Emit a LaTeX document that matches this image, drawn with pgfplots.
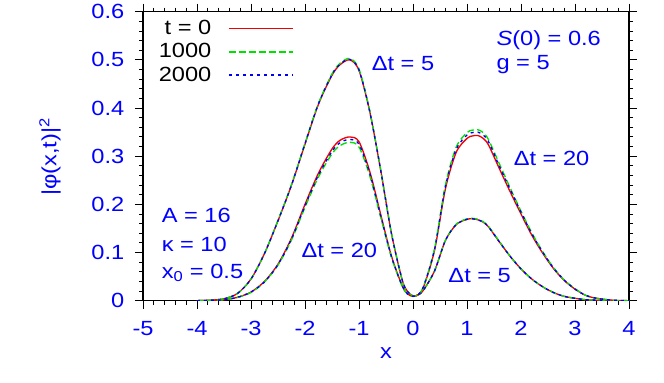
\documentclass[border=0pt]{standalone}
\usepackage{fontspec}
\setmainfont{Liberation Sans}[FakeStretch=1.15]
\usepackage{pgfplots}
\usepackage{pgfplotstable}
\pgfplotsset{compat=1.18}

\definecolor{cred}{RGB}{240,0,0}
\definecolor{cgreen}{RGB}{0,225,0}
\definecolor{cblue}{RGB}{0,0,245}

% |phi(x,t)|^2; r/g/b = t = 0, 1000, 2000
\pgfplotstableread{
x     r5    g5    b5    r20    g20    b20
-4.00 0.000 0.000 0.000 0.000  0.000  0.000
-3.75 0.001 0.001 0.001 0.0005 0.0005 0.0005
-3.50 0.004 0.004 0.004 0.002  0.002  0.002
-3.25 0.015 0.015 0.015 0.007  0.007  0.007
-3.00 0.045 0.045 0.045 0.018  0.017  0.018
-2.75 0.098 0.098 0.098 0.040  0.039  0.039
-2.50 0.166 0.167 0.166 0.076  0.074  0.075
-2.25 0.240 0.241 0.240 0.130  0.126  0.128
-2.00 0.325 0.327 0.326 0.200  0.194  0.197
-1.75 0.408 0.410 0.409 0.265  0.257  0.261
-1.50 0.468 0.471 0.469 0.315  0.305  0.310
-1.35 0.490 0.493 0.491 0.333  0.322  0.328
-1.17 0.500 0.503 0.501 0.340  0.329  0.335
-1.00 0.478 0.481 0.479 0.330  0.319  0.325
-0.80 0.392 0.394 0.392 0.268  0.259  0.264
-0.60 0.272 0.273 0.272 0.180  0.174  0.177
-0.40 0.140 0.141 0.140 0.093  0.090  0.092
-0.20 0.043 0.043 0.043 0.031  0.030  0.031
-0.10 0.019 0.019 0.019 0.014  0.014  0.014
 0.00 0.010 0.010 0.010 0.009  0.009  0.009
 0.10 0.012 0.012 0.012 0.013  0.013  0.013
 0.20 0.023 0.023 0.023 0.030  0.031  0.031
 0.40 0.062 0.062 0.062 0.105  0.109  0.107
 0.60 0.125 0.125 0.125 0.232  0.240  0.237
 0.80 0.158 0.159 0.158 0.308  0.319  0.314
 1.00 0.169 0.170 0.169 0.337  0.349  0.344
 1.10 0.170 0.171 0.170 0.342  0.354  0.349
 1.20 0.168 0.169 0.168 0.343  0.355  0.350
 1.30 0.163 0.164 0.163 0.337  0.349  0.344
 1.40 0.153 0.154 0.153 0.323  0.334  0.330
 1.60 0.122 0.123 0.122 0.274  0.284  0.279
 1.80 0.092 0.092 0.092 0.226  0.234  0.231
 2.00 0.066 0.066 0.066 0.180  0.186  0.184
 2.20 0.045 0.045 0.045 0.136  0.141  0.139
 2.40 0.029 0.029 0.029 0.099  0.102  0.101
 2.60 0.017 0.017 0.017 0.067  0.069  0.068
 2.80 0.009 0.009 0.009 0.042  0.043  0.043
 3.00 0.005 0.005 0.005 0.024  0.025  0.024
 3.20 0.002 0.002 0.002 0.011  0.011  0.011
 3.40 0.001 0.001 0.001 0.005  0.005  0.005
 3.70 0.000 0.000 0.000 0.001  0.001  0.001
 4.00 0.000 0.000 0.000 0.000  0.000  0.000
}\curves

\newcommand{\lbl}{\fontsize{15.4}{17}\selectfont}

\begin{document}
\begin{tikzpicture}
\path (0,0) rectangle (498pt,285pt);
\begin{axis}[
    at={(107.25pt,61.5pt)}, anchor=south west,
    width=364.5pt, height=216.75pt, scale only axis,
    xmin=-5, xmax=4, ymin=0, ymax=0.6,
    xtick={-5,-4,-3,-2,-1,0,1,2,3,4},
    ytick={0,0.1,0.2,0.3,0.4,0.5,0.6},
    minor x tick num=4, minor y tick num=4,
    tick align=outside,
    major tick length=6pt, minor tick length=3pt,
    tick style={black, line width=0.7pt},
    axis line style={line width=0.9pt},
    /pgf/number format/assume math mode=true,
    ticklabel style={text=blue, font=\lbl},
    xticklabel style={yshift=-6pt},
    yticklabel style={/pgf/number format/fixed, xshift=-4.5pt},
    legend plot pos=right,
    legend cell align=right,
    legend image code/.code={\draw[#1, line width=1.2pt] (0pt,0pt) -- (48pt,0pt);},
    legend style={at={(axis cs:-2.12,0.594)}, anchor=north east,
        draw=none, fill=none, font=\lbl,
        row sep=1.3pt,
        /tikz/every even column/.append style={column sep=11pt},
        /tikz/every odd column/.append style={column sep=11pt}},
]
\addplot[color=cred, line width=1pt, smooth] table[x=x, y=r5] {\curves};
\addlegendentry{t = 0}
\addplot[color=cgreen, line width=1pt, smooth, dash pattern=on 5pt off 2.5pt] table[x=x, y=g5] {\curves};
\addlegendentry{1000}
\addplot[color=cblue, line width=1pt, smooth, dash pattern=on 2.2pt off 3pt] table[x=x, y=b5] {\curves};
\addlegendentry{2000}
\addplot[color=cred, line width=1pt, smooth, forget plot] table[x=x, y=r20] {\curves};
\addplot[color=cgreen, line width=1pt, smooth, dash pattern=on 5pt off 2.5pt, forget plot] table[x=x, y=g20] {\curves};
\addplot[color=cblue, line width=1pt, smooth, dash pattern=on 2.2pt off 3pt, forget plot] table[x=x, y=b20] {\curves};

\node[blue, font=\lbl, anchor=west] at (axis cs:-0.85,0.493) {Δt = 5};
\node[blue, font=\lbl, anchor=west] at (axis cs:1.78,0.296) {Δt = 20};
\node[blue, font=\lbl, anchor=west] at (axis cs:-2.15,0.104) {Δt = 20};
\node[blue, font=\lbl, anchor=west] at (axis cs:0.57,0.052) {Δt = 5};
\node[blue, font=\lbl, anchor=west] at (axis cs:1.46,0.54) {\textit{S}(0) = 0.6};
\node[blue, font=\lbl, anchor=west] at (axis cs:1.46,0.49) {g = 5};
\node[blue, font=\lbl, anchor=west] at (axis cs:-4.74,0.178) {A = 16};
\node[blue, font=\lbl, anchor=west] at (axis cs:-4.74,0.116) {κ = 10};
\node[blue, font=\lbl, anchor=west] at (axis cs:-4.74,0.058) {x\textsubscript{0} = 0.5};
\end{axis}
\node[blue, font=\lbl] at (289.5pt,22.5pt) {x};
\node[blue, font=\lbl, rotate=90] at (37.5pt,169.5pt) {|φ(x,t)|\textsuperscript{2}};
\end{tikzpicture}
\end{document}
